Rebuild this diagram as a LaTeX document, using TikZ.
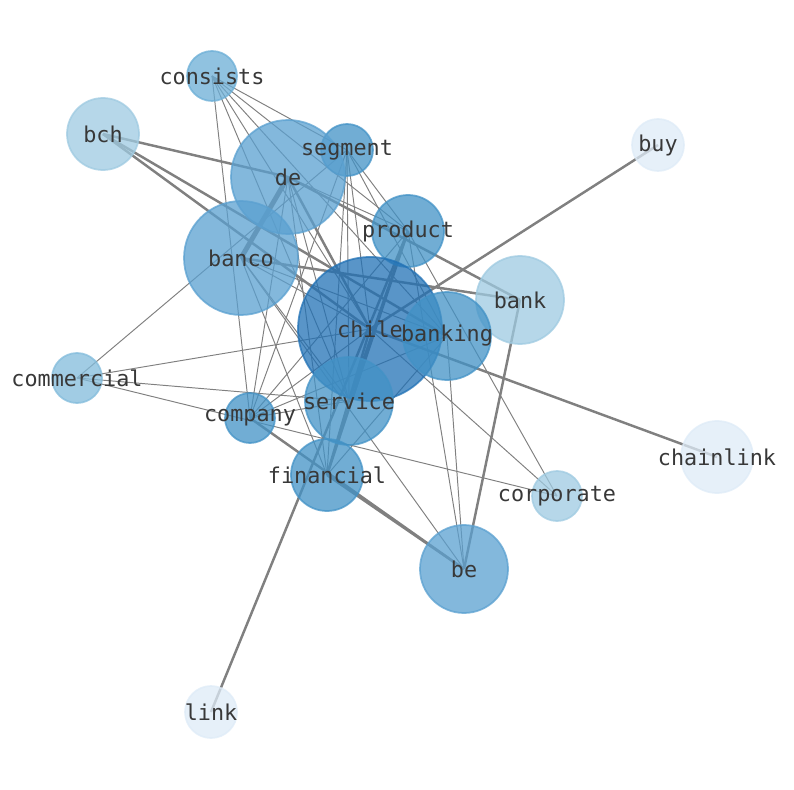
\documentclass[tikz,border=0pt]{standalone}
\usepackage{fontspec}
\setmonofont{DejaVu Sans Mono}
\usetikzlibrary{backgrounds}

\definecolor{bluedeep}{RGB}{33,113,181}
\definecolor{bluemid}{RGB}{66,146,198}
\definecolor{bluebig}{RGB}{90,160,208}
\definecolor{bluesoft}{RGB}{107,174,214}
\definecolor{bluepale}{RGB}{130,187,219}
\definecolor{bluelite}{RGB}{158,202,225}
\definecolor{bluefaint}{RGB}{222,235,247}

\tikzset{
  vert/.style={circle,inner sep=0pt,minimum size=#1*0.4mm,
    fill opacity=0.75,draw opacity=0.75,line width=1pt},
  word/.style={font=\ttfamily\fontsize{12.4}{14}\selectfont,text=black!78,inner sep=0pt},
  lightedge/.style={gray,line width=0.55pt},
  heavyedge/.style={gray,line width=1.4pt},
}

\begin{document}
\begin{tikzpicture}[x=0.02cm,y=-0.02cm]
\useasboundingbox (0,0) rectangle (794,790);

% vertices, x/y in pixels
\foreach \n/\x/\y/\r/\c in {
  consists/212/76/25/bluesoft, bch/103/134/36/bluelite, segment/347/150/26/bluemid,
  de/288/177/57/bluebig, buy/658/145/26/bluefaint, product/408/231/36/bluemid,
  banco/241/258/57/bluebig, bank/520/300/44/bluelite, chile/370/329/72/bluedeep,
  banking/447/336/44/bluemid, commercial/77/378/25/bluepale, company/250/418/25/bluemid,
  service/349/401/44/bluemid, financial/327/475/36/bluemid, chainlink/717/457/36/bluefaint,
  corporate/557/496/25/bluelite, be/464/569/44/bluebig, link/211/712/26/bluefaint}
  \node[vert=\r,fill=\c,draw=\c] (\n) at (\x,\y) {};

\begin{scope}[on background layer]
\foreach \a/\b in {consists/company, consists/service, consists/chile, consists/banking,
  consists/product, consists/segment, segment/service, segment/financial, segment/chile,
  segment/product, segment/banking, segment/commercial, segment/company,
  de/product, de/service, de/financial, de/company,
  banco/chile, banco/banking, banco/financial, banco/service, banco/be,
  commercial/chile, commercial/service, commercial/corporate,
  company/chile, company/banking, company/product, company/service,
  chile/corporate, banking/be, banking/financial, product/be, product/corporate}
  \draw[lightedge] (\a.center) -- (\b.center);
\foreach \a/\b in {bch/de, bch/chile, bch/banking, banco/bank, de/bank, buy/chile,
  link/product, bank/be, chainlink/chile, company/be, financial/be,
  product/financial, chile/financial, de/chile, product/service}
  \draw[heavyedge] (\a.center) -- (\b.center);
\draw[gray,line width=2.8pt] (banco.center) -- (de.center);
\end{scope}

% labels on top
\foreach \n in {consists,bch,segment,de,buy,product,banco,bank,chile,banking,
  commercial,company,service,financial,chainlink,corporate,be,link}
  \node[word] (\n-t) at (\n) {\n};
\end{tikzpicture}
\end{document}
